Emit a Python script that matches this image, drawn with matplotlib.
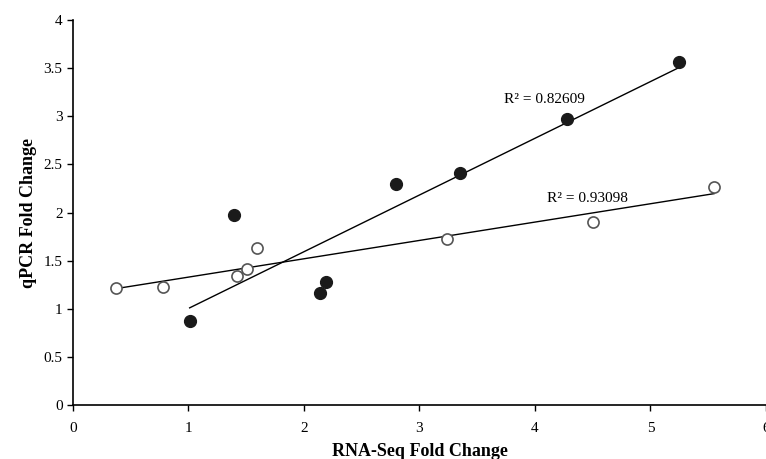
import numpy as np
import matplotlib.pyplot as plt

plt.rcParams['font.family'] = ['Liberation Serif', 'DejaVu Serif']

# filled series
x_filled = [1.01, 1.39, 2.14, 2.19, 2.80, 3.35, 4.28, 5.25]
y_filled = [0.87, 1.97, 1.16, 1.28, 2.30, 2.41, 2.97, 3.56]

# open series
x_open = [0.37, 0.78, 1.42, 1.51, 1.59, 3.24, 4.50, 5.55]
y_open = [1.22, 1.23, 1.34, 1.41, 1.63, 1.72, 1.90, 2.27]

r2_labels = ['R² = 0.82609', 'R² = 0.93098']

fig = plt.figure(figsize=(7.66, 4.59), dpi=100)
ax = fig.add_axes([0.0953, 0.1176, 0.9047, 0.8388])

# trendlines
for xs, ys in [(x_filled, y_filled), (x_open, y_open)]:
    xs = np.array(xs)
    m, b = np.polyfit(xs, ys, 1)
    xx = np.array([xs.min(), xs.max()])
    ax.plot(xx, m * xx + b, color='black', lw=1, zorder=2)

ax.plot(x_filled, y_filled, 'o', ms=8.5, mfc='#1a1a1a', mec='#1a1a1a', zorder=3)
ax.plot(x_open, y_open, 'o', ms=8, mfc='white', mec='#555555', mew=1.2, zorder=3)

ax.text(3.73, 3.17, r2_labels[0], fontsize=11, va='center')
ax.text(4.10, 2.15, r2_labels[1], fontsize=11, va='center')

ax.set_xlim(0, 6)
ax.set_ylim(0, 4)
ax.set_xticks(range(0, 7))
ax.set_yticks(np.arange(0, 4.01, 0.5))
ax.set_yticklabels(['0', '0.5', '1', '1.5', '2', '2.5', '3', '3.5', '4'])
ax.tick_params(labelsize=11, direction='out', length=4, width=1)
ax.tick_params(axis='x', pad=8)
ax.spines['top'].set_visible(False)
ax.spines['right'].set_visible(False)
ax.spines['left'].set_linewidth(1.2)
ax.spines['bottom'].set_linewidth(1.2)

ax.set_xlabel('RNA-Seq Fold Change', fontsize=13, fontweight='bold', labelpad=6)
ax.set_ylabel('qPCR Fold Change', fontsize=13, fontweight='bold', labelpad=5)

fig.savefig('out.png', dpi=100)
